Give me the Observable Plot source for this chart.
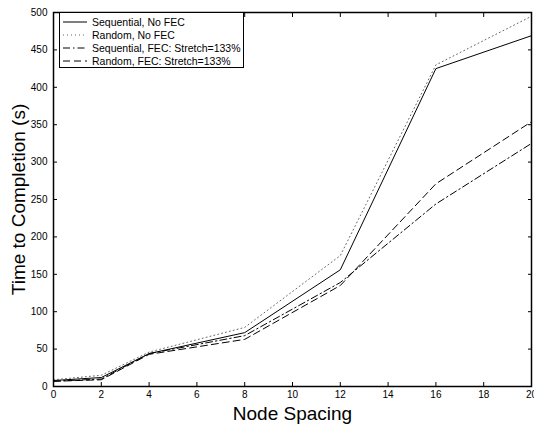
<!DOCTYPE html>
<html><head><meta charset="utf-8">
<script src="https://cdn.jsdelivr.net/npm/d3@7"></script>
<script src="https://cdn.jsdelivr.net/npm/@observablehq/plot@0.6"></script>
<style>
body{margin:0;background:#fff;font-family:"Liberation Sans",Arial,sans-serif;}
#wrap{position:relative;width:534px;height:424px;}
#legend{position:absolute;left:59px;top:12px;width:185px;height:56px;border:1px solid #000;background:#fff;box-sizing:border-box;font-size:10.5px;padding-top:2px;}
#legend .row{display:flex;align-items:center;height:13px;}
#legend svg{margin-left:3px;margin-right:5px;}
</style></head><body>
<div id="wrap"><div id="chart"></div><div id="legend"></div></div>
<script>
const spacing = [0, 2, 4, 8, 12, 16, 20];
const seqNoFEC = [8, 12, 44, 72, 156, 425, 469];
const randNoFEC = [9, 15, 46, 79, 175, 430, 495];
const seqFEC = [7, 10, 44, 68, 139, 244, 325];
const randFEC = [7, 9, 43, 63, 135, 271, 354];
const seriesNames = ["Sequential, No FEC", "Random, No FEC", "Sequential, FEC: Stretch=133%", "Random, FEC: Stretch=133%"];
const xTicks = [0,2,4,6,8,10,12,14,16,18,20];
const yTicks = [0,50,100,150,200,250,300,350,400,450,500];

const styles = [
  {stroke:"#000", dash:null, width:1},
  {stroke:"#666", dash:"1,3", width:1},
  {stroke:"#000", dash:"7,3,1.5,3", width:1},
  {stroke:"#000", dash:"7,4", width:1}
];
const allSeries = [seqNoFEC, randNoFEC, seqFEC, randFEC];
const data = allSeries.map((vals,i)=>spacing.map((x,j)=>({x, y: vals[j], s: seriesNames[i]})));

const lineMarks = data.map((d,i)=>Plot.line(d,{x:"x",y:"y",stroke:styles[i].stroke,strokeWidth:styles[i].width,strokeDasharray:styles[i].dash}));

const chart = Plot.plot({
  width:534, height:424,
  marginLeft:53, marginRight:3, marginTop:12, marginBottom:38,
  style:{fontFamily:"Liberation Sans, Arial, sans-serif", fontSize:"10px", color:"#000", background:"#fff"},
  x:{domain:[0,20]},
  y:{domain:[0,500]},
  marks:[
    ...lineMarks,
    Plot.frame({stroke:"#000", strokeWidth:1.5}),
    Plot.axisX(xTicks,{anchor:"bottom", tickSize:-4, tickPadding:8, label:null, fontSize:10}),
    Plot.axisX(xTicks,{anchor:"top", tickSize:-4, tickFormat:()=>"", label:null}),
    Plot.axisY(yTicks,{anchor:"left", tickSize:-4, tickPadding:10, label:null, fontSize:10}),
    Plot.axisY(yTicks,{anchor:"right", tickSize:-4, tickFormat:()=>"", label:null}),
    Plot.text(["Node Spacing"],{frameAnchor:"bottom", dy:33, fontSize:19}),
    Plot.text(["Time to Completion (s)"],{frameAnchor:"left", textAnchor:"middle", dx:-35, rotate:-90, fontSize:19})
  ]
});
document.getElementById("chart").appendChild(chart);

const leg = document.getElementById("legend");
seriesNames.forEach((n,i)=>{
  const row = document.createElement("div"); row.className="row";
  const st = styles[i];
  row.innerHTML = `<svg width="24" height="8"><line x1="0" x2="24" y1="4" y2="4" stroke="${st.stroke}" stroke-width="1" ${st.dash?`stroke-dasharray="${st.dash}"`:""}/></svg><span>${n}</span>`;
  leg.appendChild(row);
});
</script>
</body></html>
